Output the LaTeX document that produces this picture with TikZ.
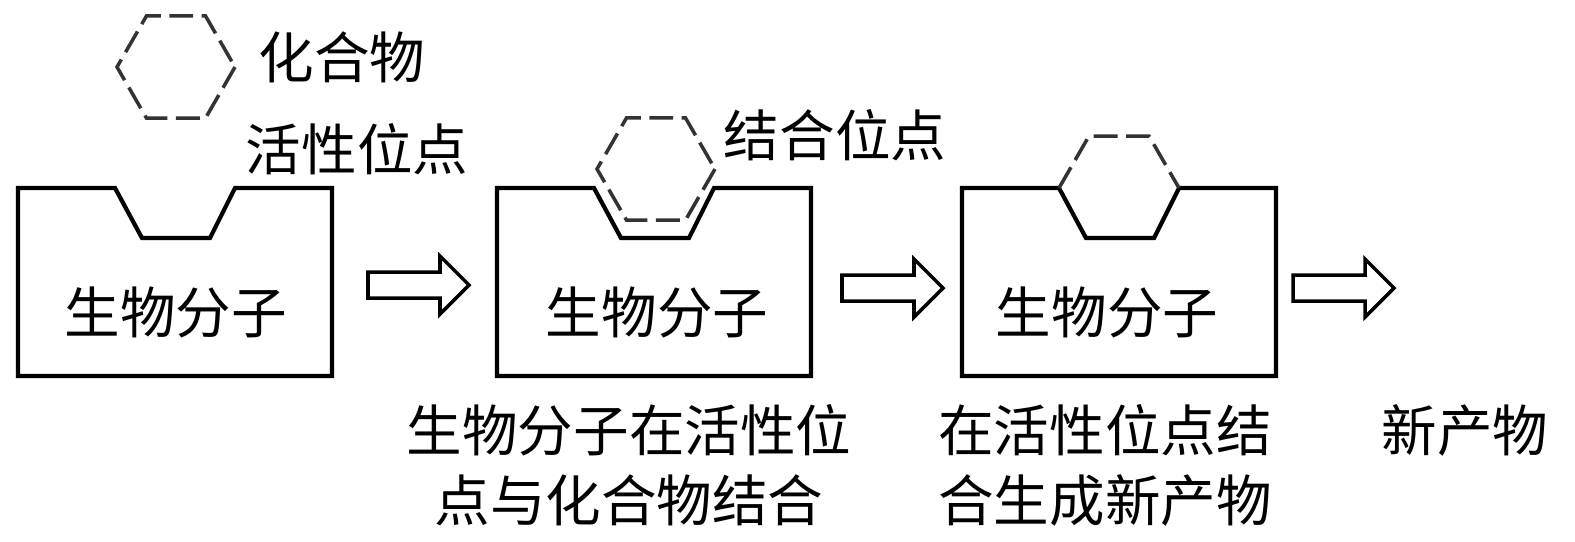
\documentclass[tikz,border=0pt]{standalone}
\usepackage{fontspec}
\setmainfont{Noto Sans CJK SC}
\usepackage{tikz}
\usetikzlibrary{
	calc,               %计算
	positioning,       %定位
	shapes.geometric   %几何形状
}
\tikzset{
	every picture/.style={
		>=latex,
		node distance=5mm and 5mm
}}
\tikzset{
	molbox/.style={line width=1.2pt,line join=miter},
	hexdash/.style={draw=black!80,line width=1pt,dash pattern=on 6.8pt off 2.4pt},
	fatarrow/.style={line width=1pt,line join=miter},
	lbl/.style={font=\fontsize{15.8}{19.9}\selectfont,inner sep=0pt,align=center}
}

\begin{document}
\begin{tikzpicture}[x=0.01cm,y=-0.01cm]
\useasboundingbox (0,0) rectangle (1575,541);
% 三个生物分子
\foreach \x in {18,497,962}
  \draw[molbox] (\x,188) -- ++(97,0) -- ++(27,50) -- ++(68,0) -- ++(25,-50)
    -- (\x+314,188) -- (\x+314,376) -- (\x,376) -- cycle;
\node[lbl] (mol1) at (176,312) {生物分子};
\node[lbl] (mol2) at (657,312) {生物分子};
\node[lbl] (mol3) at (1107,312) {生物分子};
% 化合物
\coordinate (hex1) at (176,67);
\coordinate (hex2) at (656,169);
\coordinate (hex3) at (1119,188);
\foreach \h in {hex1,hex2}
  \draw[hexdash] (\h) +(0:59) -- +(60:59) -- +(120:59) -- +(180:59)
    -- +(240:59) -- +(300:59) -- cycle;
\draw[hexdash] (hex3) +(180:60) -- +(240:60) -- +(300:60) -- +(360:60);
% 箭头
\foreach \x/\y in {368/285,842/288,1293/288}
  \draw[fatarrow] (\x,\y-13) -- (\x+72,\y-13) -- (\x+72,\y-29) -- (\x+101,\y)
    -- (\x+72,\y+29) -- (\x+72,\y+13) -- (\x,\y+13) -- cycle;
% 文字
\node[lbl] (cpd) at (342,57) {化合物};
\node[lbl] (site) at (357,149) {活性位点};
\node[lbl] (bind) at (835,135) {结合位点};
\node[lbl] (step1) at (629,465) {生物分子在活性位\\点与化合物结合};
\node[lbl] (step2) at (1105,465) {在活性位点结\\合生成新产物};
\node[lbl] (prod) at (1465,430) {新产物};
\end{tikzpicture}
\end{document}
